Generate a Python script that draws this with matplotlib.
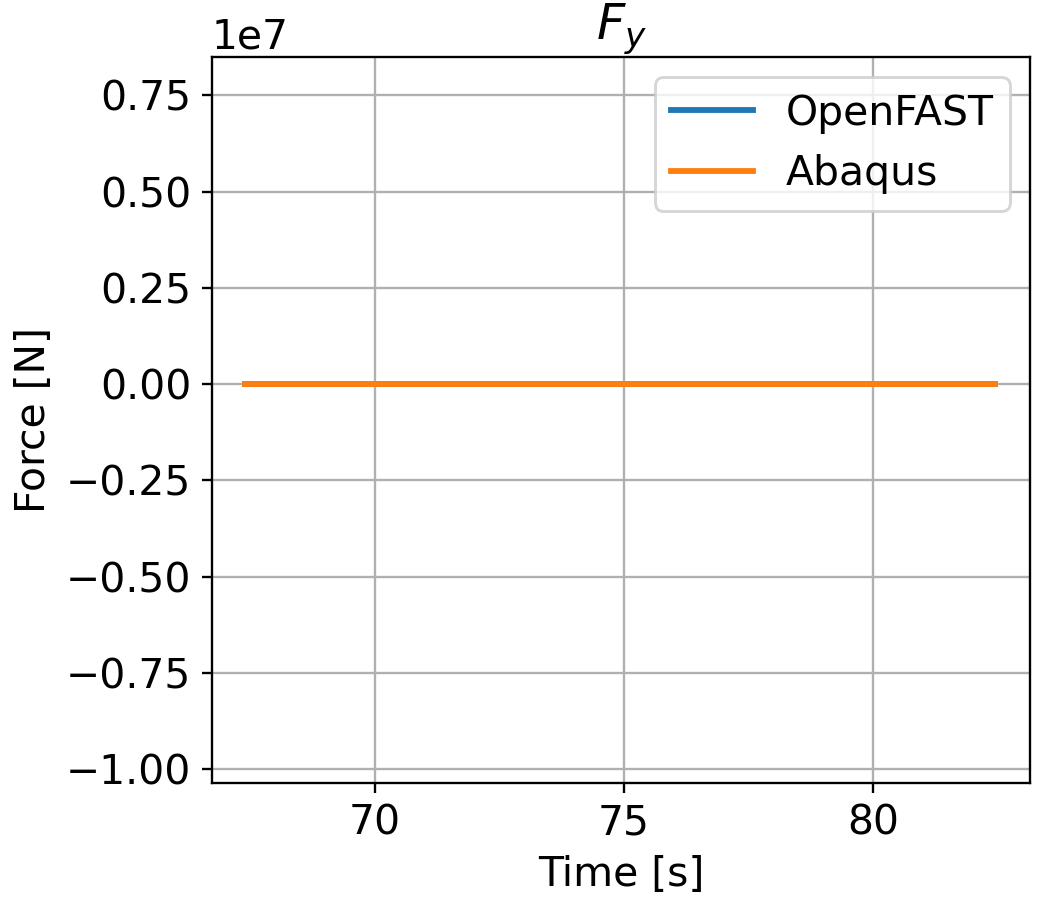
import numpy as np
import matplotlib
matplotlib.use("Agg")
import matplotlib.pyplot as plt

# time axis and force values (both series sit flat on zero)
time = [67.4, 69.0, 71.0, 73.0, 75.0, 77.0, 79.0, 81.0, 82.45]
fy_openfast = [0.0, 0.0, 0.0, 0.0, 0.0, 0.0, 0.0, 0.0, 0.0]
fy_abaqus = [0.0, 0.0, 0.0, 0.0, 0.0, 0.0, 0.0, 0.0, 0.0]

plt.rcParams['font.size'] = 14

fig = plt.figure(figsize=(1037 / 210, 900 / 210), dpi=210)
ax = fig.add_axes([212 / 1037, 1 - 783 / 900, (1030 - 212) / 1037, (783 - 57) / 900])

ax.plot(time, fy_openfast, label="OpenFAST", color="#1f77b4", lw=2)
ax.plot(time, fy_abaqus, label="Abaqus", color="#ff7f0e", lw=2)

ax.set_xlim(66.73, 83.15)
ax.set_ylim(-1.036e7, 0.85e7)
ax.set_yticks(np.arange(-1.0e7, 0.76e7, 0.25e7))
ax.set_xticks([70, 75, 80])
ax.set_xlabel("Time [s]")
ax.set_ylabel("Force [N]")
ax.set_title("$F_y$")
ax.grid(True)
ax.legend(loc="upper right")

fig.savefig("out.png", dpi=210)
